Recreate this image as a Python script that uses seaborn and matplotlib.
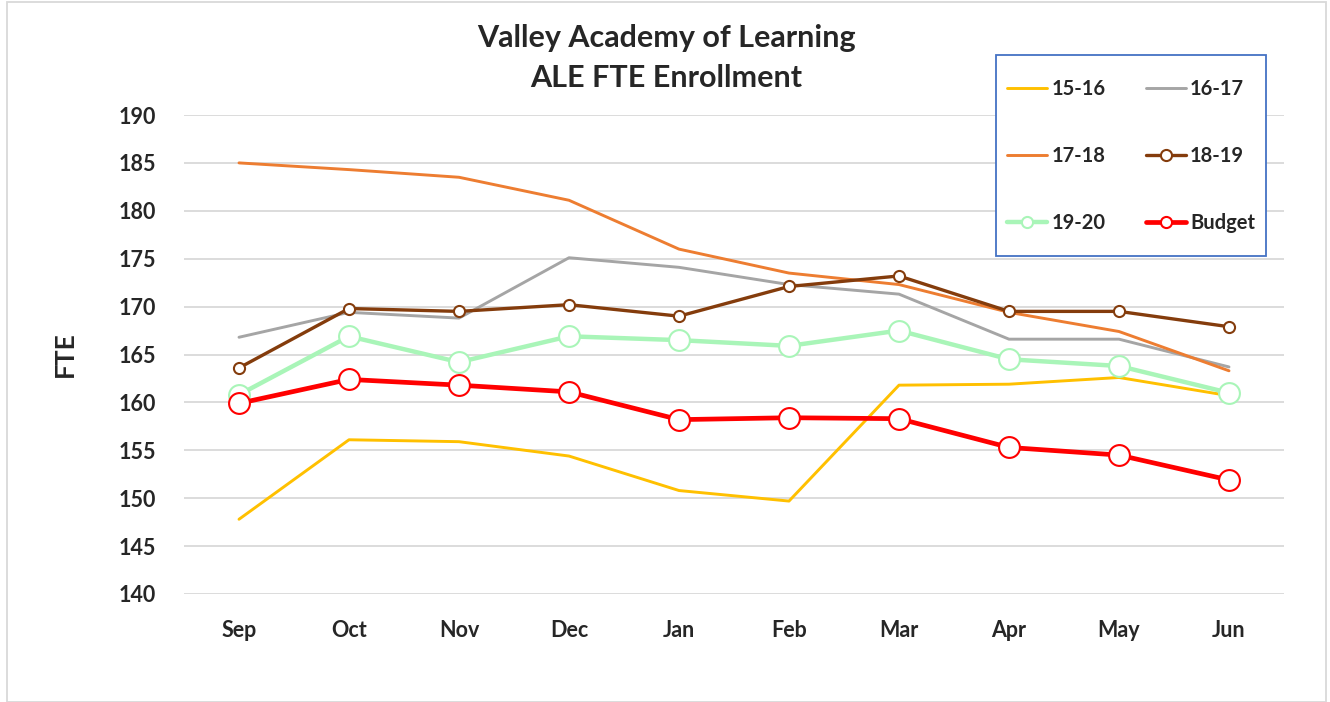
import matplotlib
matplotlib.use("Agg")
import matplotlib.pyplot as plt
import seaborn as sns
import pandas as pd
from matplotlib.patches import Rectangle

months = ["Sep", "Oct", "Nov", "Dec", "Jan", "Feb", "Mar", "Apr", "May", "Jun"]
fy1516 = [147.8, 156.1, 155.9, 154.4, 150.8, 149.7, 161.8, 161.9, 162.6, 160.7]
fy1617 = [166.8, 169.4, 168.8, 175.1, 174.1, 172.3, 171.3, 166.6, 166.6, 163.7]
fy1718 = [185.0, 184.3, 183.5, 181.1, 176.0, 173.5, 172.3, 169.4, 167.4, 163.3]
fy1819 = [163.6, 169.8, 169.5, 170.2, 169.0, 172.1, 173.2, 169.5, 169.5, 167.9]
fy1920 = [160.8, 166.9, 164.2, 166.9, 166.5, 165.9, 167.5, 164.5, 163.8, 161.0]
budget = [159.9, 162.4, 161.8, 161.1, 158.2, 158.4, 158.3, 155.3, 154.5, 151.9]
yticks = [140, 145, 150, 155, 160, 165, 170, 175, 180, 185, 190]

series = [
    ("15-16", fy1516, dict(color="#FFC000", linewidth=2.1)),
    ("16-17", fy1617, dict(color="#A5A5A5", linewidth=2.1)),
    ("17-18", fy1718, dict(color="#ED7D31", linewidth=2.1)),
    ("18-19", fy1819, dict(color="#843C0C", linewidth=2.4, marker="o", markersize=8,
                           markerfacecolor="white", markeredgecolor="#843C0C", markeredgewidth=1.5)),
    ("19-20", fy1920, dict(color="#A9F5B8", linewidth=3.2, marker="o", markersize=15,
                           markerfacecolor="white", markeredgecolor="#A9F5B8", markeredgewidth=1.5)),
    ("Budget", budget, dict(color="#FF0000", linewidth=3.4, marker="o", markersize=15,
                            markerfacecolor="white", markeredgecolor="#FF0000", markeredgewidth=1.5)),
]

sns.set_theme(style="white")
plt.rcParams["font.family"] = ["Lato", "DejaVu Sans"]

fig = plt.figure(figsize=(13.3, 7.02), dpi=100)
ax = fig.add_axes([184/1330, 1-594/702, 1100/1330, 479/702])

for name, vals, kw in series:
    df = pd.DataFrame({"Month": months, "FTE": vals})
    sns.lineplot(data=df, x="Month", y="FTE", ax=ax, sort=False, label=name, **kw)

ax.set_xlim(-0.5, len(months) - 0.5)
ax.set_ylim(yticks[0], yticks[-1])
ax.set_yticks(yticks)
ax.yaxis.grid(True, color="#D9D9D9", linewidth=1.3)
ax.xaxis.grid(False)
for s in ax.spines.values():
    s.set_visible(False)
ax.tick_params(axis="both", length=0, labelsize=15.5, pad=20)
ax.tick_params(axis="x", pad=19)
for lab in ax.get_xticklabels() + ax.get_yticklabels():
    lab.set_fontweight("bold")
ax.set_xlabel("")
ax.set_ylabel("FTE", fontsize=19, fontweight="bold", labelpad=30)

fig.text(666/1330, 1-58/702, "Valley Academy of Learning\nALE FTE Enrollment",
         ha="center", va="center", fontsize=22, fontweight="bold", linespacing=1.48)

handles, labels = ax.get_legend_handles_labels()
order = [0, 2, 4, 1, 3, 5]
leg = ax.legend([handles[i] for i in order], [labels[i] for i in order],
                loc="center", bbox_to_anchor=(1131/1330, 1-156/702), bbox_transform=fig.transFigure,
                ncol=2, frameon=False, prop={"weight": "bold", "size": 14.5},
                handlelength=2.0, handletextpad=0.2, columnspacing=2.0, labelspacing=2.33,
                borderpad=0, borderaxespad=0)
leg.set_zorder(6)
for h in leg.legend_handles:
    if h.get_marker() not in (None, "None", ""):
        h.set_markersize(8)

ax.add_patch(Rectangle((996/1330, 1-256/702), 270/1330, 201/702, transform=fig.transFigure,
                       facecolor="white", edgecolor="#4472C4", linewidth=1.3, zorder=5, clip_on=False))

fig.patches.append(Rectangle((7/1330, 0), 1319/1330, 1-2/702, transform=fig.transFigure,
                             fill=False, edgecolor="#D9D9D9", linewidth=1.3))

fig.savefig("out.png", dpi=100, facecolor="white")
